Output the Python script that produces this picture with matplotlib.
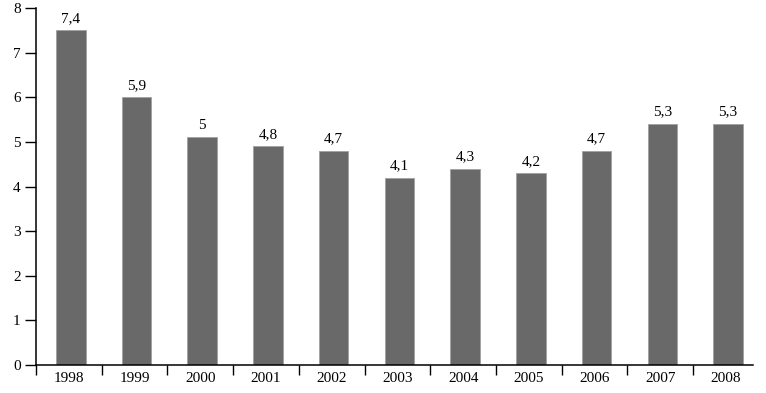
import numpy as np
import matplotlib.pyplot as plt

years = ['1998', '1999', '2000', '2001', '2002', '2003', '2004', '2005', '2006', '2007', '2008']
heights = [7.5, 6.0, 5.1, 4.9, 4.8, 4.2, 4.4, 4.3, 4.8, 5.4, 5.4]
labels = ['7,4', '5,9', '5', '4,8', '4,7', '4,1', '4,3', '4,2', '4,7', '5,3', '5,3']

plt.rcParams['font.family'] = ['Liberation Serif', 'DejaVu Serif']

fig = plt.figure(figsize=(7.66, 3.93), dpi=100)
ax = fig.add_axes([36 / 766, 1 - 365 / 393, (753 - 36) / 766, (365 - 8) / 393])

x = np.arange(len(years)) + 0.03
ax.bar(x, heights, width=0.45, color='#696969', edgecolor='#a0a0a0', linewidth=0.6)
for xi, h, lab in zip(x, heights, labels):
    ax.text(xi, h + 0.12, lab, ha='center', va='bottom', fontsize=11)

ax.set_xlim(-0.5, 10.41)
ax.set_ylim(0, 8)
ax.set_yticks(range(9))
ax.tick_params(axis='y', length=8, width=1, pad=3, labelsize=11)

ax.set_xticks(np.arange(len(years)))
ax.set_xticklabels(years)
ax.set_xticks(np.arange(-0.5, 10, 1), minor=True)
ax.tick_params(axis='x', which='major', length=0, pad=5, labelsize=11)
ax.tick_params(axis='x', which='minor', length=7, width=1)

for s in ['top', 'right']:
    ax.spines[s].set_visible(False)
for s in ['left', 'bottom']:
    ax.spines[s].set_linewidth(1.1)

fig.savefig('out.png', dpi=100)
